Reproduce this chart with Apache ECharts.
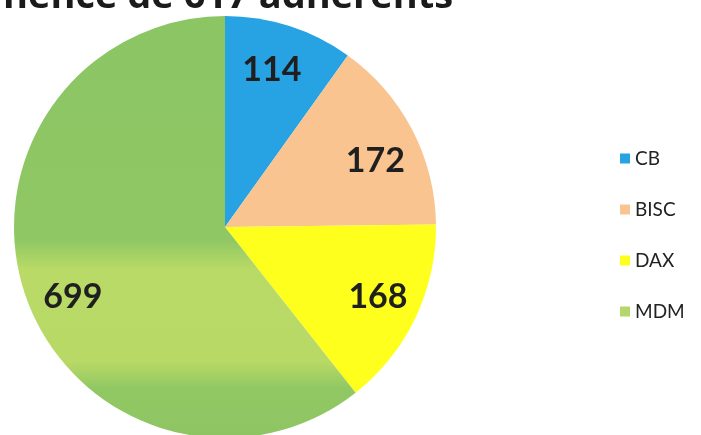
<!DOCTYPE html>
<html>
<head>
<meta charset="utf-8">
<script src="https://cdn.jsdelivr.net/npm/echarts@6/dist/echarts.min.js"></script>
<style>
  html, body { margin: 0; padding: 0; background: #fff; }
  #chart { width: 701px; height: 435px; }
</style>
</head>
<body>
<div id="chart"></div>
<script>
// donnees
const categories = ["CB", "BISC", "DAX", "MDM"];
const values = [114, 172, 168, 699];
const colors = ["#27a2e2", "#f9c48f", "#ffff1e", null];

const chart = echarts.init(document.getElementById("chart"));

// MDM : degrade vertical (plus clair au milieu)
const mdmFill = new echarts.graphic.LinearGradient(0, 0, 0, 1, [
  { offset: 0, color: "#8cc564" },
  { offset: 0.53, color: "#8fc764" },
  { offset: 0.6, color: "#b9da66" },
  { offset: 0.82, color: "#b8d965" },
  { offset: 0.88, color: "#92c863" },
  { offset: 1, color: "#8ec563" },
]);
const fills = colors.map((c) => c || mdmFill);
const legendColors = ["#27a2e2", "#f9c48f", "#ffff1e", "#b5d66a"];
// petits decalages des etiquettes, comme sur l'original
const labelShift = [[-5, 4], [0, 12], [0, -3], [8, 15]];

const pieData = categories.map((name, i) => ({
  name: name,
  value: values[i],
  itemStyle: { color: fills[i] },
}));

// serie transparente pour placer les etiquettes vers l'exterieur
const labelData = categories.map((name, i) => ({
  name: name,
  value: values[i],
  itemStyle: { color: "rgba(0,0,0,0)" },
  label: { offset: labelShift[i] },
}));

chart.setOption({
  backgroundColor: "#fff",
  animation: false,
  title: {
    text: "nence de 617 adhérents",
    left: -2,
    top: -27,
    textStyle: {
      fontFamily: "Open Sans",
      fontWeight: "bold",
      fontSize: 38,
      color: "#1b1b1b",
    },
  },
  legend: {
    orient: "vertical",
    left: 615,
    top: 144,
    itemWidth: 10,
    itemHeight: 10,
    itemGap: 32,
    icon: "rect",
    textStyle: { fontFamily: "Lato", fontSize: 19, color: "#222" },
    data: categories.map((name, i) => ({
      name: name,
      itemStyle: { color: legendColors[i] },
    })),
  },
  series: [
    {
      type: "pie",
      center: [225, 227],
      radius: [0, 211],
      startAngle: 90,
      clockwise: true,
      silent: true,
      label: { show: false },
      labelLine: { show: false },
      itemStyle: { borderWidth: 0 },
      data: pieData,
    },
    {
      type: "pie",
      center: [225, 227],
      radius: [122, 211],
      startAngle: 90,
      clockwise: true,
      silent: true,
      legendHoverLink: false,
      label: {
        show: true,
        position: "inside",
        formatter: "{c}",
        fontFamily: "Lato",
        fontWeight: "bold",
        fontSize: 34,
        color: "#1f1f1f",
      },
      labelLine: { show: false },
      data: labelData,
    },
  ],
});
</script>
</body>
</html>
